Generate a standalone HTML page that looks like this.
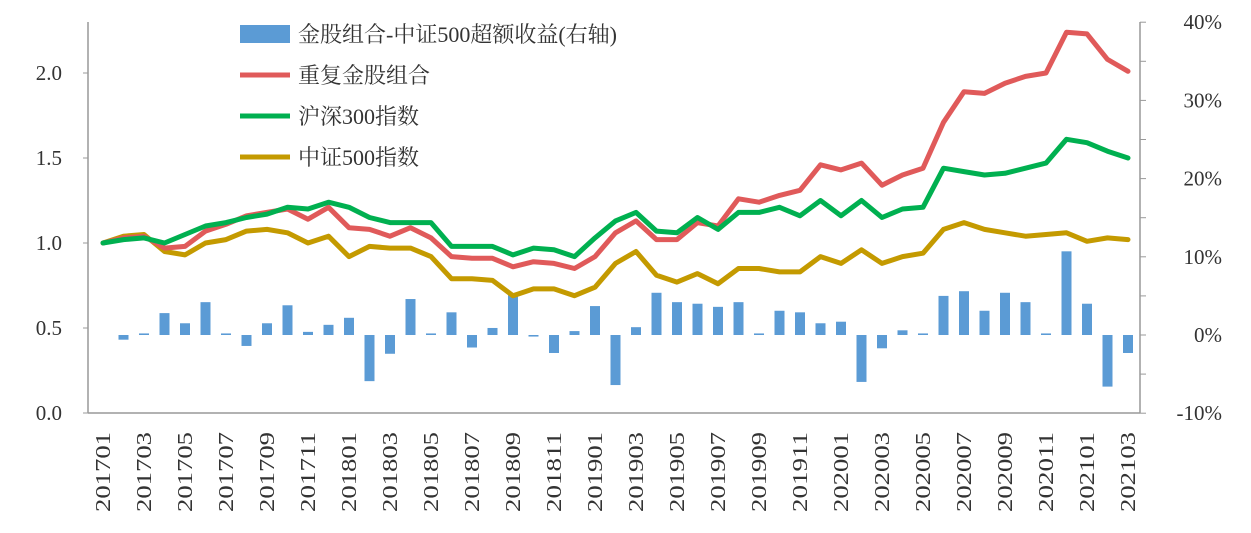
<!DOCTYPE html>
<html><head><meta charset="utf-8"><style>
body{margin:0;background:#fff;}
svg text{font-family:"Liberation Serif","Noto Serif CJK SC",serif;fill:#333;}
</style></head><body>
<svg id="c" width="1251" height="528" xmlns="http://www.w3.org/2000/svg"></svg>
<script>
const months=[];for(let y=2017;y<=2021;y++)for(let m=1;m<=12;m++){if(y===2021&&m>3)break;months.push(''+y+(m<10?'0':'')+m);}
const excess=[0,-0.6,0.2,2.8,1.5,4.2,0.2,-1.4,1.5,3.8,0.4,1.3,2.2,-5.9,-2.4,4.6,0.2,2.9,-1.6,0.9,5.1,-0.2,-2.3,0.5,3.7,-6.4,1.0,5.4,4.2,4.0,3.6,4.2,0.2,3.1,2.9,1.5,1.7,-6.0,-1.7,0.6,0.2,5.0,5.6,3.1,5.4,4.2,0.2,10.7,4.0,-6.6,-2.3];
const goldPort=[1.00,1.03,1.04,0.97,0.98,1.07,1.11,1.16,1.18,1.20,1.14,1.21,1.09,1.08,1.04,1.09,1.03,0.92,0.91,0.91,0.86,0.89,0.88,0.85,0.92,1.06,1.13,1.02,1.02,1.12,1.10,1.26,1.24,1.28,1.31,1.46,1.43,1.47,1.34,1.40,1.44,1.71,1.89,1.88,1.94,1.98,2.00,2.24,2.23,2.08,2.01];
const hs300=[1.00,1.02,1.03,1.00,1.05,1.10,1.12,1.15,1.17,1.21,1.20,1.24,1.21,1.15,1.12,1.12,1.12,0.98,0.98,0.98,0.93,0.97,0.96,0.92,1.03,1.13,1.18,1.07,1.06,1.15,1.08,1.18,1.18,1.21,1.16,1.25,1.16,1.25,1.15,1.20,1.21,1.44,1.42,1.40,1.41,1.44,1.47,1.61,1.59,1.54,1.50];
const zz500=[1.00,1.04,1.05,0.95,0.93,1.00,1.02,1.07,1.08,1.06,1.00,1.04,0.92,0.98,0.97,0.97,0.92,0.79,0.79,0.78,0.69,0.73,0.73,0.69,0.74,0.88,0.95,0.81,0.77,0.82,0.76,0.85,0.85,0.83,0.83,0.92,0.88,0.96,0.88,0.92,0.94,1.08,1.12,1.08,1.06,1.04,1.05,1.06,1.01,1.03,1.02];
const leftTicks=[0,0.5,1.0,1.5,2.0];
const rightTicks=[-10,0,10,20,30,40];
const svg=document.getElementById('c');const NS='http://www.w3.org/2000/svg';
function mk(t,a,p){const e=document.createElementNS(NS,t);for(const k in a)e.setAttribute(k,a[k]);(p||svg).appendChild(e);return e;}
const L=88,R=1140;
const xS=i=>103+i*(1128-103)/(months.length-1);
const yL=v=>413-v*170;
const yR=v=>335-v*7.82;
let e=mk('line',{x1:L,y1:22,x2:L,y2:413,stroke:'#999','stroke-width':1.5});

e=mk('line',{x1:R,y1:22,x2:R,y2:413,stroke:'#999','stroke-width':1.5});

e=mk('line',{x1:L,y1:413,x2:R,y2:413,stroke:'#999','stroke-width':1.5});

leftTicks.forEach(v=>{mk('line',{x1:L-5,x2:L,y1:yL(v),y2:yL(v),stroke:'#999'});
 const t=mk('text',{x:62,y:yL(v)+7,'text-anchor':'end','font-size':21});t.textContent=v.toFixed(1);
 });
for(let v=-10;v<=40;v+=5)mk('line',{x1:R,x2:R+6,y1:yR(v),y2:yR(v),stroke:'#999'});
rightTicks.forEach(v=>{const t=mk('text',{x:1222,y:yR(v)+7,'text-anchor':'end','font-size':21});t.textContent=v+'%';
 });
months.forEach((m,i)=>{if(i%2)return;const x=xS(i);const t=mk('text',{x:0,y:0,'font-size':21,textLength:80,lengthAdjust:'spacingAndGlyphs',transform:`translate(${x+7},512) rotate(-90)`});t.textContent=m;
 });
excess.forEach((v,i)=>{if(v===0)return;const y0=yR(0),y1=yR(v);const b=mk('rect',{x:xS(i)-5,y:Math.min(y0,y1),width:10,height:Math.max(1,Math.abs(y1-y0)),fill:'#5b9bd5'});
 });
function line(arr,col,name){const p=mk('polyline',{points:arr.map((v,i)=>xS(i)+','+yL(v)).join(' '),fill:'none',stroke:col,'stroke-width':5,'stroke-linejoin':'round','stroke-linecap':'round'});
 }
line(zz500,'#c49a00','zz500-line');line(goldPort,'#e05a5a','gold-portfolio-line');line(hs300,'#00b050','hs300-line');
const lg=[['金股组合-中证500超额收益(右轴)','#5b9bd5',true],['重复金股组合','#e05a5a'],['沪深300指数','#00b050'],['中证500指数','#c49a00']];
lg.forEach((d,k)=>{const y=34+k*41;let s;
 if(d[2])s=mk('rect',{x:240,y:y-9,width:50,height:18,fill:d[1]});else s=mk('line',{x1:240,x2:290,y1:y,y2:y,stroke:d[1],'stroke-width':5});
 
 const t=mk('text',{x:298,y:y+8,'font-size':22});t.textContent=d[0];
 });
</script>
</body></html>
